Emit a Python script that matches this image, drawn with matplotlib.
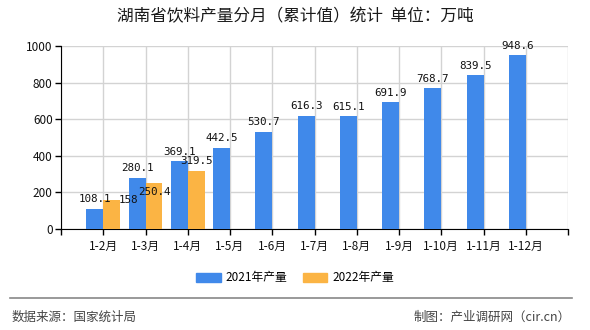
import matplotlib
matplotlib.use("Agg")
from matplotlib import pyplot as plt
from matplotlib.patches import Patch
import numpy as np

plt.rcParams['font.family'] = ['Noto Sans CJK SC', 'DejaVu Sans']

months = ["1-2月", "1-3月", "1-4月", "1-5月", "1-6月", "1-7月",
          "1-8月", "1-9月", "1-10月", "1-11月", "1-12月"]
output_2021 = [108.1, 280.1, 369.1, 442.5, 530.7, 616.3, 615.1, 691.9, 768.7, 839.5, 948.6]
output_2022 = [158, 250.4, 319.5]
labels_2022 = ["158", "250.4", "319.5"]
series_names = ["2021年产量", "2022年产量"]

c_blue = "#4089ea"
c_orange = "#fbb444"

fig = plt.figure(figsize=(5.9, 3.3), dpi=100)
ax = fig.add_axes([61 / 590, 1 - 229 / 330, 507 / 590, 183 / 330])

x = np.arange(1, len(months) + 1)
w = 0.4
ax.bar(x[:len(output_2021)] - w / 2, output_2021, w, color=c_blue, zorder=3)
ax.bar(x[:len(output_2022)] + w / 2, output_2022, w, color=c_orange, zorder=3)

lab_font = dict(family="DejaVu Sans Mono", fontsize=7.8, color="#111111")
for xi, v in zip(x, output_2021):
    ax.annotate(f"{v:.1f}", (xi - w / 2, v), xytext=(0, 7), textcoords="offset points",
                ha="center", va="center", zorder=4, **lab_font)
# label nudges to mimic the original collision layout (points)
nudges = {0: (12, 0), 1: (0, -6.5), 2: (0, 7)}
for i, (xi, v) in enumerate(zip(x, output_2022)):
    dx, dy = nudges.get(i, (0, 7))
    ax.annotate(labels_2022[i], (xi + w / 2, v), xytext=(dx, dy), textcoords="offset points",
                ha="center", va="center", zorder=4, **lab_font)

ax.set_xlim(0, len(months) + 1)
ax.set_ylim(0, 1000)
ax.set_yticks(range(0, 1001, 200))
ax.set_xticks(range(0, len(months) + 2))
ax.set_xticklabels([""] + months + [""])
ax.grid(True, color="#d3d3d3", linewidth=1, zorder=0)
for s in ["top", "right"]:
    ax.spines[s].set_visible(False)
ax.spines["left"].set_color("black")
ax.spines["bottom"].set_color("black")
ax.tick_params(axis="both", direction="out", length=4, width=1, colors="black",
               labelsize=8.5, labelcolor="#111111")
ax.tick_params(axis="x", pad=4)
ax.tick_params(axis="y", pad=2)

fig.text(295 / 590, 1 - 17 / 330, "湖南省饮料产量分月（累计值）统计  单位：万吨",
         ha="center", va="center", fontsize=12, color="#1a1a1a")

handles = [Patch(color=c_blue), Patch(color=c_orange)]
fig.legend(handles, series_names, loc="center", bbox_to_anchor=(295 / 590, 1 - 278 / 330),
           ncol=2, frameon=False, fontsize=8.5, handlelength=2.1, handleheight=0.9,
           handletextpad=0.4, columnspacing=1.3)

fig.add_artist(plt.Line2D([10 / 590, 572 / 590], [1 - 298 / 330, 1 - 298 / 330],
                          color="#888888", linewidth=1.2))
fig.text(12 / 590, 1 - 317 / 330, "数据来源：国家统计局", ha="left", va="center",
         fontsize=9, color="#444444")
fig.text(571 / 590, 1 - 317 / 330, "制图：产业调研网（cir.cn）", ha="right", va="center",
         fontsize=9, color="#444444")

fig.savefig("out.png", dpi=100)
